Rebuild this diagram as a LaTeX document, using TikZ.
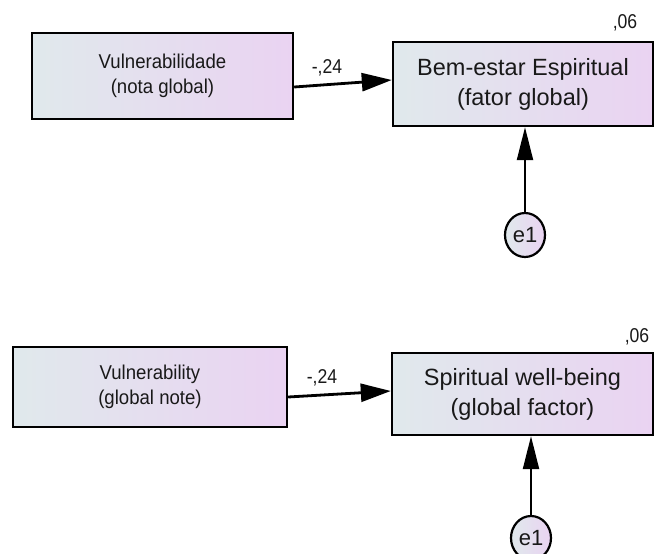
\documentclass[tikz,border=0pt]{standalone}
\usepackage{fontspec}
\usepackage{graphicx}
\setmainfont{Liberation Sans}
\usetikzlibrary{arrows.meta,shapes.geometric,calc}
\definecolor{gl}{RGB}{224,233,236}
\definecolor{gr}{RGB}{234,211,242}
\newcommand{\narr}[1]{\scalebox{0.93}[1]{#1}}
\newcommand{\narl}[1]{\scalebox{0.88}[1]{#1}}
\tikzset{
  varbox/.style={draw=black, line width=2.4pt, rectangle, inner sep=0pt,
    left color=gl, right color=gr, align=center, text=black!90},
  errnode/.style={draw=black, line width=2.2pt, ellipse, inner sep=0pt,
    minimum width=40pt, minimum height=44pt, left color=gl, right color=gr,
    font=\fontsize{22}{24}\selectfont, text=black!90},
  path/.style={line width=2.8pt, draw=black, -{Triangle[length=30pt,width=18pt]}},
  errpath/.style={line width=2.2pt, draw=black, -{Triangle[length=33pt,width=16pt]}},
  coef/.style={font=\fontsize{20}{22}\selectfont, text=black!90, inner sep=0pt},
  smalltxt/.style={font=\fontsize{20}{25}\selectfont},
  bigtxt/.style={font=\fontsize{23.5}{30}\selectfont}
}
\begin{document}
\begin{tikzpicture}[x=1pt,y=-1pt]
\useasboundingbox (0,0) rectangle (654,554);
\clip (0,0) rectangle (654,554);
% top
\node[varbox, smalltxt, minimum width=261pt, minimum height=86pt] (A1) at (162.5,76) {\narr{Vulnerabilidade}\\\narr{(nota global)}};
\node[varbox, bigtxt, minimum width=260pt, minimum height=84pt] (B1) at (523,84) {Bem-estar Espiritual\\(fator global)};
\node[errnode] (E1) at (525,235) {e1};
\draw[path] ([yshift=-11pt]A1.east) -- ([yshift=4pt]B1.west);
\draw[errpath] (E1.north) -- (E1.north |- B1.south);
\node[coef] (c1) at (327,68) {\narl{-,24}};
\node[coef] (r1) at (625,23) {\narl{,06}};
% bottom
\node[varbox, smalltxt, minimum width=274pt, minimum height=80pt] (A2) at (150,387) {\narr{Vulnerability}\\\narr{(global note)}};
\node[varbox, bigtxt, minimum width=261pt, minimum height=82pt] (B2) at (522.5,394) {Spiritual well-being\\(global factor)};
\node[errnode] (E2) at (531,538) {e1};
\draw[path] ([yshift=-10pt]A2.east) -- ([yshift=3pt]B2.west);
\draw[errpath] (E2.north) -- (E2.north |- B2.south);
\node[coef] (c2) at (322,378) {\narl{-,24}};
\node[coef] (r2) at (637,337) {\narl{,06}};
\end{tikzpicture}
\end{document}
